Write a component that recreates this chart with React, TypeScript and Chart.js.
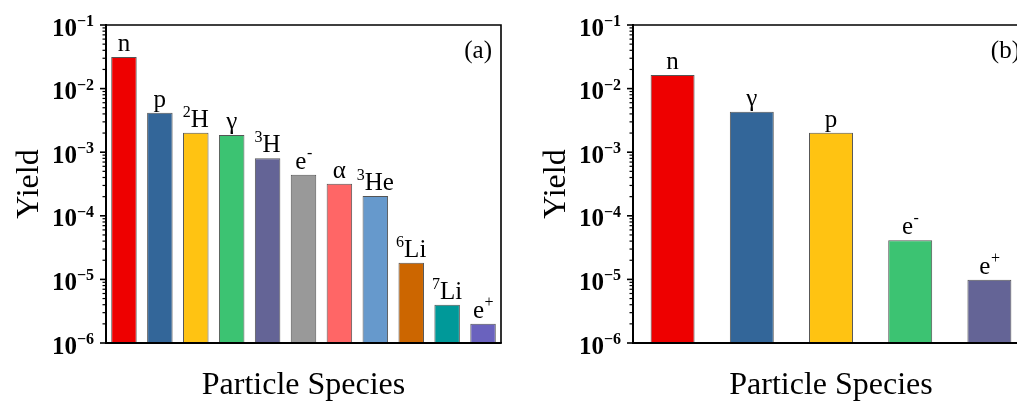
import React, { useEffect, useRef } from 'react';
import { Chart, registerables } from 'chart.js';
Chart.register(...registerables);

// ---------- data ----------
const categoriesA = ['n', 'p', '2H', 'γ', '3H', 'e-', 'α', '3He', '6Li', '7Li', 'e+'];
const baseA = ['n', 'p', 'H', 'γ', 'H', 'e', 'α', 'He', 'Li', 'Li', 'e'];
const preSupA = ['', '', '2', '', '3', '', '', '3', '6', '7', ''];
const postSupA = ['', '', '', '', '', '-', '', '', '', '', '+'];
const valuesA = [0.0314, 0.00418, 0.00203, 0.00186, 0.0008, 0.000443, 0.00032, 0.000205, 1.83e-5, 3.98e-6, 2.01e-6];
const colorsA = ['#EE0000', '#336699', '#FFC312', '#3CC372', '#646496', '#999999', '#FF6666', '#6699CC', '#CC6600', '#009999', '#6A62BE'];

const categoriesB = ['n', 'γ', 'p', 'e-', 'e+'];
const baseB = ['n', 'γ', 'p', 'e', 'e'];
const preSupB = ['', '', '', '', ''];
const postSupB = ['', '', '', '-', '+'];
const valuesB = [0.0164, 0.00434, 0.00203, 4.11e-5, 9.9e-6];
const colorsB = ['#EE0000', '#336699', '#FFC312', '#3CC372', '#646496'];

const yExponents = [-1, -2, -3, -4, -5, -6];
const minorMultipliers = [2, 3, 4, 5, 6, 7, 8, 9];
const xTitle = 'Particle Species';
const yTitle = 'Yield';

const SERIF = "'Liberation Serif', 'Times New Roman', serif";

function makePlugin(letter: string, base: string[], pre: string[], post: string[]) {
  return {
    id: 'custom' + letter,
    afterDatasetsDraw(chart: any) {
      const ctx = chart.ctx as CanvasRenderingContext2D;
      const a = chart.chartArea;
      const y = chart.scales.y;
      ctx.save();
      ctx.fillStyle = '#000';
      ctx.strokeStyle = '#000';
      // bar labels
      const meta = chart.getDatasetMeta(0);
      meta.data.forEach((el: any, i: number) => {
        const bigFont = `25px ${SERIF}`;
        const smallFont = `16px ${SERIF}`;
        ctx.font = smallFont;
        const wPre = pre[i] ? ctx.measureText(pre[i]).width : 0;
        const wPost = post[i] ? ctx.measureText(post[i]).width : 0;
        ctx.font = bigFont;
        const wBase = ctx.measureText(base[i]).width;
        const total = wPre + wBase + wPost;
        let x = el.x - total / 2;
        const bl = el.y - 6;
        ctx.textAlign = 'left';
        ctx.textBaseline = 'alphabetic';
        if (pre[i]) {
          ctx.font = smallFont;
          ctx.fillText(pre[i], x, bl - 10);
          x += wPre;
        }
        ctx.font = bigFont;
        ctx.fillText(base[i], x, bl);
        x += wBase;
        if (post[i]) {
          ctx.font = smallFont;
          ctx.fillText(post[i], x + 0.5, bl - 11);
        }
      });
      // frame
      ctx.lineWidth = 1.6;
      ctx.beginPath();
      ctx.moveTo(a.left, a.top);
      ctx.lineTo(a.right, a.top);
      ctx.lineTo(a.right, a.bottom);
      ctx.stroke();
      ctx.lineWidth = 2;
      ctx.beginPath();
      ctx.moveTo(a.left, a.top - 1);
      ctx.lineTo(a.left, a.bottom);
      ctx.lineTo(a.right + 0.8, a.bottom);
      ctx.stroke();
      // ticks
      yExponents.forEach((e) => {
        const py = y.getPixelForValue(Math.pow(10, e));
        ctx.lineWidth = 1.6;
        ctx.beginPath();
        ctx.moveTo(a.left - 6, py);
        ctx.lineTo(a.left, py);
        ctx.stroke();
        if (e > -6) {
          minorMultipliers.forEach((m) => {
            const my = y.getPixelForValue(m * Math.pow(10, e - 1));
            ctx.lineWidth = 1.2;
            ctx.beginPath();
            ctx.moveTo(a.left - 3.5, my);
            ctx.lineTo(a.left, my);
            ctx.stroke();
          });
        }
        // labels
        const sup = '\u2212' + Math.abs(e);
        ctx.font = `bold 25px ${SERIF}`;
        const w1 = ctx.measureText('10').width;
        ctx.font = `bold 16px ${SERIF}`;
        const w2 = ctx.measureText(sup).width;
        const right = a.left - 12;
        const x0 = right - w1 - w2;
        ctx.textAlign = 'left';
        ctx.textBaseline = 'alphabetic';
        ctx.font = `bold 25px ${SERIF}`;
        ctx.fillText('10', x0, py + 10.5);
        ctx.font = `bold 16px ${SERIF}`;
        ctx.fillText(sup, x0 + w1, py + 1);
      });
      // titles
      ctx.font = `32px ${SERIF}`;
      ctx.textAlign = 'center';
      ctx.textBaseline = 'alphabetic';
      ctx.fillText(xTitle, (a.left + a.right) / 2, 394);
      ctx.save();
      ctx.translate(a.left - 68, (a.top + a.bottom) / 2);
      ctx.rotate(-Math.PI / 2);
      ctx.fillText(yTitle, 0, 0);
      ctx.restore();
      // panel letter
      ctx.font = `25px ${SERIF}`;
      ctx.textAlign = 'right';
      ctx.fillText(`(${letter})`, a.right - 9, a.top + 33);
      ctx.restore();
    },
  };
}

function Panel(props: {
  left: number; width: number; cats: string[]; vals: number[]; cols: string[];
  base: string[]; pre: string[]; post: string[]; letter: string; padLeft: number; padRight: number; barPct: number;
}) {
  const ref = useRef<HTMLCanvasElement>(null);
  useEffect(() => {
    if (!ref.current) return;
    const chart = new Chart(ref.current, {
      type: 'bar',
      data: {
        labels: props.cats,
        datasets: [{
          data: props.vals,
          backgroundColor: props.cols,
          borderColor: '#555',
          borderWidth: 1,
          barPercentage: props.barPct,
          categoryPercentage: 1,
        }],
      },
      options: {
        animation: false,
        responsive: false,
        devicePixelRatio: 1,
        layout: { padding: { left: props.padLeft, right: props.padRight, top: 25, bottom: 59 } },
        plugins: { legend: { display: false }, tooltip: { enabled: false } },
        scales: {
          x: { display: false, offset: true },
          y: { type: 'logarithmic', display: false, min: 1e-6, max: 1e-1 },
        },
      },
      plugins: [makePlugin(props.letter, props.base, props.pre, props.post)],
    } as any);
    return () => chart.destroy();
  }, []);
  return (
    <canvas
      ref={ref}
      width={props.width}
      height={402}
      style={{ position: 'absolute', left: props.left, top: 0, width: props.width, height: 402 }}
    />
  );
}

export default function App() {
  return (
    <div style={{ position: 'fixed', left: 0, top: 0, width: 1017, height: 402, overflow: 'hidden', background: '#fff' }}>
      <Panel left={0} width={520} cats={categoriesA} vals={valuesA} cols={colorsA}
        base={baseA} pre={preSupA} post={postSupA} letter="a" padLeft={106} padRight={19} barPct={0.71} />
      <Panel left={520} width={520} cats={categoriesB} vals={valuesB} cols={colorsB}
        base={baseB} pre={preSupB} post={postSupB} letter="b" padLeft={113} padRight={11} barPct={0.555} />
    </div>
  );
}
